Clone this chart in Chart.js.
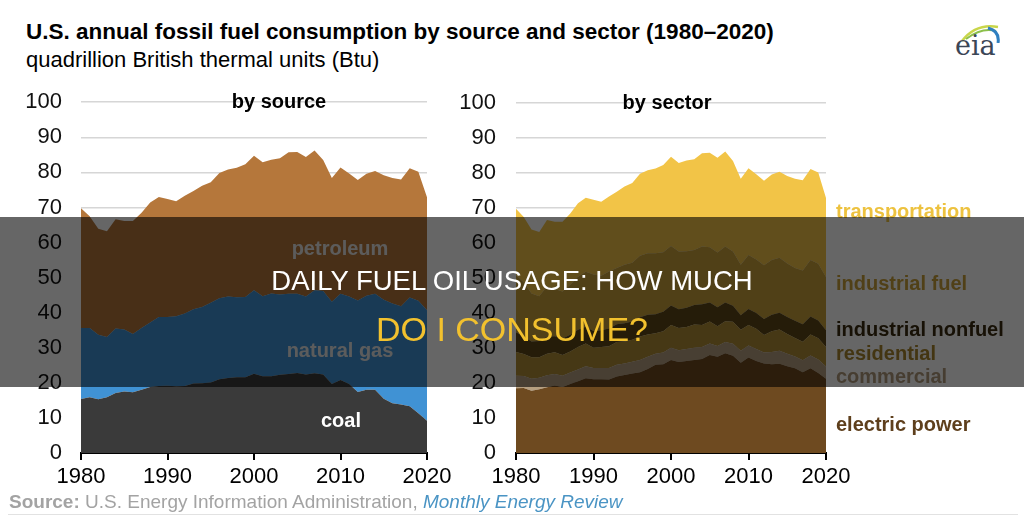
<!DOCTYPE html>
<html>
<head>
<meta charset="utf-8">
<script src="https://cdn.jsdelivr.net/npm/chart.js@4/dist/chart.umd.min.js"></script>
<style>
  html, body { margin: 0; padding: 0; background: #fff; }
  #page { position: relative; width: 1024px; height: 517px; overflow: hidden; font-family: "Liberation Sans", Arial, sans-serif; }
  canvas { position: absolute; }
  .lbl { position: absolute; white-space: nowrap; font-weight: bold; font-size: 20px; line-height: 1; }
  .ctr { transform: translate(-50%, -50%); }
  .lft { transform: translateY(-50%); }
  #overlay { position: absolute; left: 0; top: 217px; width: 1024px; height: 170px; background: rgba(0, 0, 0, 0.6); }
  .head { position: absolute; left: 0; width: 1024px; text-align: center; line-height: 1; }
</style>
</head>
<body>
<div id="page">
  <div class="lbl" style="left:26px; top:21px; font-size:22.5px; color:#000;">U.S. annual fossil fuel consumption by source and sector (1980–2020)</div>
  <div class="lbl" style="left:26px; top:49px; font-size:22px; font-weight:normal; color:#000;">quadrillion British thermal units (Btu)</div>

  <svg style="position:absolute; left:958px; top:19px;" width="46" height="24" viewBox="0 0 46 24">
    <path d="M4 22 Q18 4 40 8" stroke="#c9d64a" stroke-width="2.5" fill="none"/>
    <path d="M8 20 Q24 8 38 12" stroke="#8cc04a" stroke-width="2" fill="none"/>
    <path d="M30 9 Q42 12 40 24" stroke="#2f7fc0" stroke-width="3" fill="none"/>
  </svg>
  <div style="position:absolute; left:955px; top:32px; font-family:'DejaVu Serif','Liberation Serif',serif; font-size:27px; color:#3b4656; line-height:1;">eia</div>

  <canvas id="sourceChart" width="470" height="430" style="left:0; top:70px;"></canvas>
  <canvas id="sectorChart" width="420" height="430" style="left:440px; top:70px;"></canvas>

  <div class="lbl ctr" style="left:279px; top:101px; color:#000;">by source</div>
  <div class="lbl ctr" style="left:667px; top:102px; color:#000;">by sector</div>
  <div class="lbl ctr" style="left:340px; top:248px; color:#e6e6e6;">petroleum</div>
  <div class="lbl ctr" style="left:340px; top:350px; color:#e6e6e6;">natural gas</div>
  <div class="lbl ctr" style="left:341px; top:420px; color:#fff;">coal</div>

  <div class="lbl lft" style="left:836px; top:211px; color:#edc23f;">transportation</div>
  <div class="lbl lft" style="left:836px; top:283px; color:#c9a03a;">industrial fuel</div>
  <div class="lbl lft" style="left:836px; top:329px; color:#3a2c10;">industrial nonfuel</div>
  <div class="lbl lft" style="left:836px; top:353px; color:#a8862e;">residential</div>
  <div class="lbl lft" style="left:836px; top:376px; color:#b09a7c;">commercial</div>
  <div class="lbl lft" style="left:836px; top:424px; color:#5e3f1c;">electric power</div>

  <div style="position:absolute; left:9px; top:492px; font-size:19px; color:#a3a3a3; white-space:nowrap; line-height:1.1;"><b>Source:</b> U.S. Energy Information Administration, <i style="color:#4a94c4;">Monthly Energy Review</i></div>
  <div style="position:absolute; left:8px; top:514px; width:1010px; height:1px; background:#e2e2e2;"></div>

  <div id="overlay"></div>
  <div class="head" style="top:267px; font-size:27.5px; color:#fff;">DAILY FUEL OIL USAGE: HOW MUCH</div>
  <div class="head" style="top:312px; font-size:34px; color:#f2c12e;">DO I CONSUME?</div>
</div>

<script>
const years = [1980, 1981, 1982, 1983, 1984, 1985, 1986, 1987, 1988, 1989,
  1990, 1991, 1992, 1993, 1994, 1995, 1996, 1997, 1998, 1999,
  2000, 2001, 2002, 2003, 2004, 2005, 2006, 2007, 2008, 2009,
  2010, 2011, 2012, 2013, 2014, 2015, 2016, 2017, 2018, 2019, 2020];
const xTicks = [1980, 1990, 2000, 2010, 2020];

// by source
const coal = [15.4, 15.9, 15.3, 15.9, 17.1, 17.5, 17.3, 18.0, 18.8, 19.1,
  19.2, 19.0, 19.1, 19.8, 19.9, 20.1, 21.0, 21.4, 21.6, 21.6,
  22.6, 21.9, 21.9, 22.3, 22.5, 22.8, 22.4, 22.7, 22.4, 19.7,
  20.8, 19.7, 17.4, 18.0, 18.0, 15.5, 14.2, 13.8, 13.3, 11.3, 9.2];
const naturalGas = [20.2, 19.7, 18.4, 17.2, 18.4, 17.7, 16.6, 17.6, 18.4, 19.7,
  19.6, 20.0, 20.7, 21.2, 21.7, 22.7, 23.1, 23.2, 22.8, 22.9,
  23.8, 22.8, 23.6, 22.9, 22.9, 22.6, 22.2, 23.7, 23.8, 23.4,
  24.6, 24.9, 26.1, 26.8, 27.4, 28.2, 28.4, 28.0, 31.0, 32.1, 31.5];
const petroleum = [34.2, 31.9, 30.2, 30.1, 31.1, 30.9, 32.2, 32.9, 34.2, 34.2,
  33.6, 32.8, 33.5, 33.7, 34.6, 34.4, 35.7, 36.2, 36.9, 37.8,
  38.3, 38.2, 38.1, 38.8, 40.3, 40.4, 39.8, 39.8, 37.3, 35.3,
  36.0, 35.1, 34.3, 34.8, 35.0, 35.5, 35.8, 36.2, 36.9, 36.8, 32.2];

// by sector
const electricPower = [18.5, 18.6, 17.8, 18.2, 18.8, 19.3, 18.9, 19.7, 20.5, 21.4,
  21.1, 21.1, 21.0, 21.9, 22.3, 22.7, 23.1, 24.0, 25.2, 25.4,
  26.6, 26.0, 26.3, 26.6, 26.9, 28.0, 27.5, 28.5, 27.8, 25.8,
  27.3, 26.3, 25.6, 25.4, 25.5, 24.8, 24.2, 23.1, 24.2, 22.9, 21.2];
const commercial = [3.6, 3.4, 3.4, 3.3, 3.4, 3.3, 3.2, 3.3, 3.4, 3.4,
  3.2, 3.2, 3.3, 3.3, 3.3, 3.4, 3.5, 3.5, 3.2, 3.3,
  3.5, 3.4, 3.4, 3.5, 3.4, 3.3, 3.1, 3.2, 3.4, 3.4,
  3.4, 3.4, 3.1, 3.5, 3.7, 3.6, 3.4, 3.4, 3.7, 3.8, 3.5];
const residential = [6.8, 6.3, 6.2, 5.9, 6.2, 6.2, 5.9, 6.0, 6.4, 6.5,
  5.8, 6.0, 6.2, 6.5, 6.3, 6.3, 6.7, 6.4, 5.8, 6.1,
  6.5, 6.3, 6.3, 6.6, 6.3, 6.3, 5.6, 6.0, 6.3, 6.0,
  5.9, 5.8, 5.0, 5.9, 6.1, 5.6, 5.3, 5.3, 6.0, 6.1, 5.6];
const industrialNonfuel = [5.6, 5.0, 4.5, 4.6, 4.9, 4.6, 4.7, 4.8, 4.9, 4.8,
  4.8, 4.8, 5.1, 5.1, 5.2, 5.2, 5.5, 5.6, 5.5, 5.6,
  5.6, 5.4, 5.5, 5.6, 5.9, 5.4, 5.5, 5.3, 4.6, 4.2,
  4.6, 4.5, 4.6, 4.7, 4.8, 4.9, 4.9, 5.0, 5.1, 5.1, 4.8];
const industrialFuel = [16.3, 15.5, 13.7, 12.8, 14.4, 13.5, 13.5, 14.3, 15.2, 15.7,
  16.1, 15.6, 16.3, 16.1, 16.7, 16.8, 17.6, 17.6, 17.4, 17.0,
  17.0, 16.5, 16.2, 15.7, 16.5, 15.8, 15.6, 16.0, 15.5, 14.4,
  15.4, 15.3, 15.4, 15.7, 15.7, 15.3, 15.1, 15.4, 16.2, 16.2, 15.2];
const transportation = [19.0, 18.7, 18.3, 18.4, 18.9, 19.2, 19.9, 20.4, 21.0, 21.2,
  21.4, 21.1, 21.4, 21.8, 22.4, 22.8, 23.4, 23.7, 24.2, 24.9,
  25.5, 25.3, 25.9, 26.0, 26.7, 27.0, 27.1, 27.2, 25.9, 24.6,
  24.8, 24.4, 24.1, 24.4, 24.6, 25.0, 25.5, 25.8, 26.0, 26.1, 22.6];

const tickFont = { family: 'Liberation Sans', size: 22 };

function area(label, data, color, i) {
  return {
    label: label,
    data: data,
    backgroundColor: color,
    borderWidth: 0,
    pointRadius: 0,
    tension: 0,
    fill: i === 0 ? 'origin' : '-1'
  };
}

function stackedChart(id, series, yAxisWidth, yPad, rightPad) {
  const ctx = document.getElementById(id).getContext('2d');
  return new Chart(ctx, {
    type: 'line',
    data: {
      labels: years,
      datasets: series.map((s, i) => area(s[0], s[1], s[2], i))
    },
    options: {
      responsive: false,
      animation: false,
      devicePixelRatio: 1,
      layout: { padding: { top: 17, right: rightPad, bottom: 0, left: 0 } },
      plugins: { legend: { display: false }, tooltip: { enabled: false } },
      scales: {
        x: {
          type: 'linear',
          min: 1980,
          max: 2020,
          afterBuildTicks: s => { s.ticks = xTicks.map(v => ({ value: v })); },
          afterFit: s => { s.height = 47; },
          ticks: { font: tickFont, color: '#000', padding: 4, maxRotation: 0, callback: v => String(v) },
          grid: { drawOnChartArea: false, drawTicks: true, tickLength: 7, color: '#000', lineWidth: 2 },
          border: { display: true, color: '#000', width: 2 }
        },
        y: {
          stacked: true,
          min: 0,
          max: 100,
          afterFit: s => { s.width = yAxisWidth; },
          ticks: { stepSize: 10, font: tickFont, color: '#111', padding: yPad },
          grid: { color: '#d6d6d6', lineWidth: 1.5, drawTicks: false },
          border: { display: false }
        }
      }
    }
  });
}

stackedChart('sourceChart', [
  ['coal', coal, '#3a3a3a'],
  ['natural gas', naturalGas, '#4092d4'],
  ['petroleum', petroleum, '#b5773b']
], 81, 19, 43);

stackedChart('sectorChart', [
  ['electric power', electricPower, '#6e4a20'],
  ['commercial', commercial, '#b59f80'],
  ['residential', residential, '#b08d35'],
  ['industrial nonfuel', industrialNonfuel, '#5e4817'],
  ['industrial fuel', industrialFuel, '#c9a03a'],
  ['transportation', transportation, '#f2c447']
], 76, 20, 34);
</script>
</body>
</html>
